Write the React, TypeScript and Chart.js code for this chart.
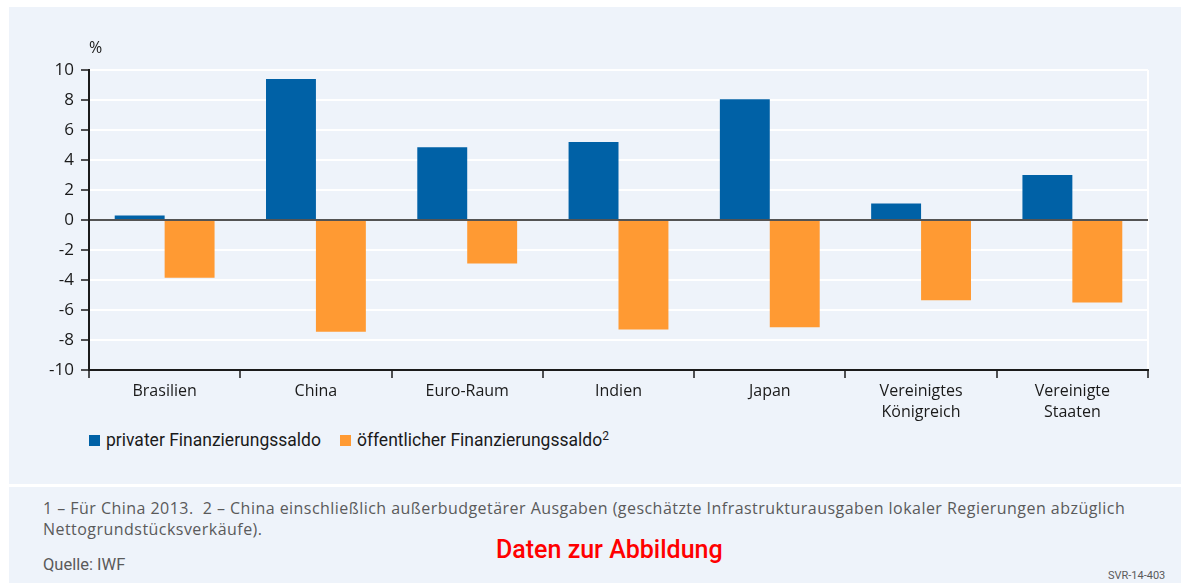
import React, { useEffect, useRef } from "react";
import { Chart, registerables } from "chart.js";

Chart.register(...registerables);

const categories: string[][] = [
  ["Brasilien"],
  ["China"],
  ["Euro-Raum"],
  ["Indien"],
  ["Japan"],
  ["Vereinigtes", "Königreich"],
  ["Vereinigte", "Staaten"],
];
const privaterSaldo = [0.3, 9.4, 4.85, 5.2, 8.05, 1.1, 3.0];
const oeffentlicherSaldo = [-3.85, -7.45, -2.9, -7.3, -7.15, -5.35, -5.5];
const yMin = -10;
const yMax = 10;
const yStep = 2;
const seriesNames = ["privater Finanzierungssaldo", "öffentlicher Finanzierungssaldo"];
const seriesSup = ["", "2"];
const seriesColors = ["#0061a6", "#ff9a33"];
const unitLabel = "%";
const footnoteLines = [
  "1 – Für China 2013.  2 – China einschließlich außerbudgetärer Ausgaben (geschätzte Infrastrukturausgaben lokaler Regierungen abzüglich",
  "Nettogrundstücksverkäufe).",
];
const sourceText = "Quelle: IWF";
const linkText = "Daten zur Abbildung";
const codeText = "SVR-14-403";

const BG = "#eef3fa";
const INK = "#1a1a1a";
const FONT = "Roboto, 'Liberation Sans', sans-serif";
const WIDE = "'Open Sans', 'DejaVu Sans', sans-serif";

const overlayPlugin = {
  id: "overlay",
  afterDatasetsDraw(chart: any) {
    const { ctx, chartArea, scales } = chart;
    const y0 = scales.y.getPixelForValue(0);
    ctx.save();
    ctx.strokeStyle = INK;
    ctx.lineWidth = 1.5;
    ctx.beginPath();
    ctx.moveTo(chartArea.left, y0);
    ctx.lineTo(chartArea.right, y0);
    ctx.stroke();
    ctx.fillStyle = INK;
    ctx.font = "16px " + WIDE;
    ctx.textAlign = "left";
    ctx.textBaseline = "middle";
    ctx.fillText(unitLabel, chartArea.left, chartArea.top - 22);
    ctx.restore();
  },
};

function BarChart() {
  const ref = useRef<HTMLCanvasElement>(null);
  useEffect(() => {
    if (!ref.current) return;
    const chart = new Chart(ref.current, {
      type: "bar",
      data: {
        labels: categories,
        datasets: [
          {
            label: seriesNames[0],
            data: privaterSaldo,
            backgroundColor: seriesColors[0],
            categoryPercentage: 0.66,
            barPercentage: 1,
          },
          {
            label: seriesNames[1],
            data: oeffentlicherSaldo,
            backgroundColor: seriesColors[1],
            categoryPercentage: 0.66,
            barPercentage: 1,
          },
        ],
      },
      options: {
        animation: false,
        responsive: false,
        maintainAspectRatio: false,
        layout: { padding: { top: 63, right: 33, left: 0, bottom: 0 } },
        plugins: {
          legend: { display: false },
          tooltip: { enabled: false },
          title: { display: false },
        },
        scales: {
          x: {
            afterFit(scale: any) {
              scale.height = 57;
            },
            grid: {
              offset: true,
              drawOnChartArea: true,
              color: (c: any) => (c.index === undefined ? "#ffffff" : "rgba(0,0,0,0)"),
              lineWidth: 2,
              tickColor: INK,
              tickWidth: 1.5,
              tickLength: 8,
            },
            border: { display: true, color: INK, width: 2 },
            ticks: {
              color: INK,
              font: { family: WIDE, size: 16, lineHeight: 1.3 },
              padding: 3,
              maxRotation: 0,
              autoSkip: false,
            },
          },
          y: {
            min: yMin,
            max: yMax,
            afterFit(scale: any) {
              scale.width = 80;
            },
            grid: {
              color: "#ffffff",
              lineWidth: 2,
              tickColor: INK,
              tickWidth: 1.5,
              tickLength: 8,
            },
            border: { display: true, color: INK, width: 2 },
            ticks: {
              stepSize: yStep,
              color: INK,
              font: { family: WIDE, size: 17 },
              padding: 7,
            },
          },
        },
      },
      plugins: [overlayPlugin],
    });
    return () => chart.destroy();
  }, []);
  return <canvas ref={ref} width={1172} height={420} style={{ display: "block" }} />;
}

export default function App() {
  return (
    <div
      style={{
        position: "absolute",
        left: 0,
        top: 0,
        width: 1181,
        height: 583,
        background: "#ffffff",
        overflow: "hidden",
        fontFamily: FONT,
      }}
    >
      <div style={{ position: "absolute", left: 9, top: 7, width: 1172, height: 477, background: BG }}>
        <BarChart />
        <div
          style={{
            position: "absolute",
            left: 80,
            top: 423,
            display: "flex",
            alignItems: "center",
            fontSize: 17.5,
            color: INK,
            whiteSpace: "nowrap",
          }}
        >
          {seriesNames.map((n, i) => (
            <span key={n} style={{ display: "inline-flex", alignItems: "center", marginRight: 19 }}>
              <span style={{ display: "inline-block", width: 11, height: 11, background: seriesColors[i], marginRight: 6 }} />
              <span>
                {n}
                {seriesSup[i] ? <sup style={{ fontSize: 12, lineHeight: 0, verticalAlign: 6 }}>{seriesSup[i]}</sup> : null}
              </span>
            </span>
          ))}
        </div>
      </div>
      <div style={{ position: "absolute", left: 9, top: 487, width: 1172, height: 96, background: BG }}>
        <div
          style={{
            position: "absolute",
            left: 34,
            top: 11,
            fontFamily: WIDE,
            fontSize: 16,
            letterSpacing: 0.46,
            lineHeight: "21px",
            color: "#5a5a5a",
            whiteSpace: "pre",
          }}
        >
          {footnoteLines.map((l) => (
            <div key={l}>{l}</div>
          ))}
        </div>
        <div style={{ position: "absolute", left: 34, top: 68, fontSize: 16.5, color: "#5a5a5a" }}>{sourceText}</div>
        <div style={{ position: "absolute", left: 487, top: 48, fontSize: 25, fontWeight: 500, color: "#ff0000" }}>{linkText}</div>
        <div style={{ position: "absolute", left: 1099, top: 82, fontSize: 11, color: "#5a5a5a" }}>{codeText}</div>
      </div>
    </div>
  );
}
